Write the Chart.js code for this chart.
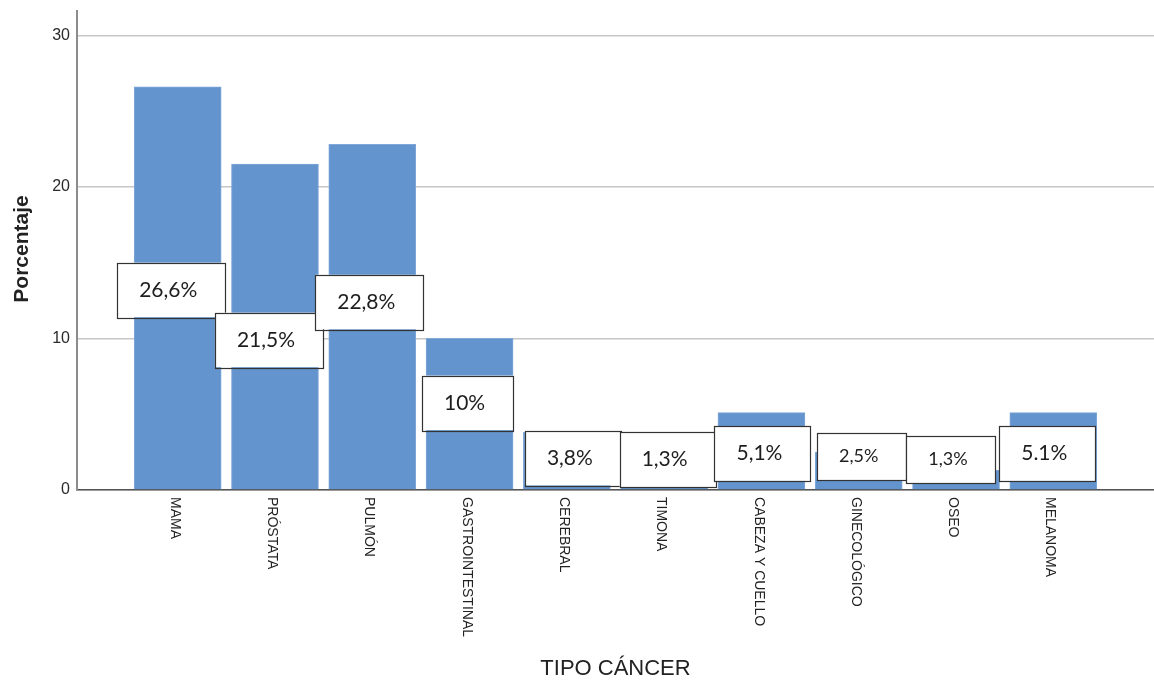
<!DOCTYPE html>
<html>
<head>
<meta charset="utf-8">
<script src="https://cdn.jsdelivr.net/npm/chart.js@4/dist/chart.umd.min.js"></script>
<style>
  html, body { margin: 0; padding: 0; background: #fff; }
  #wrap { width: 1154px; height: 682px; }
</style>
</head>
<body>
<div id="wrap"><canvas id="chart" width="1154" height="682"></canvas></div>
<script>
// tipos de cancer y porcentaje de pacientes
var categories = ["MAMA", "PRÓSTATA", "PULMÓN", "GASTROINTESTINAL", "CEREBRAL", "TIMONA", "CABEZA Y CUELLO", "GINECOLÓGICO", "OSEO", "MELANOMA"];
var percentages = [26.6, 21.5, 22.8, 10, 3.8, 1.3, 5.1, 2.5, 1.3, 5.1];
var valueLabels = ["26,6%", "21,5%", "22,8%", "10%", "3,8%", "1,3%", "5,1%", "2,5%", "1,3%", "5.1%"];
var yTicks = [0, 10, 20, 30];

// where each value box sits (centre, in % units) and how far it is nudged sideways
var tagLevel = [13.2, 9.9, 12.4, 5.75, 2.1, 2.0, 2.4, 2.2, 2.0, 2.4];
var tagShift = [-6.5, -6, -3, -2, 6, 3.5, 1, 3, -5, -6];
var tagFont = [21, 21, 21, 21, 21, 21, 21, 18, 18, 21];

var barColor = "#6394cd";

var labelsPlugin = {
  id: "labelsPlugin",
  afterDatasetsDraw: function(chart) {
    var ctx = chart.ctx;
    var xs = chart.scales.x, ys = chart.scales.y;
    ctx.save();
    for (var i = 0; i < percentages.length; i++) {
      var cx = xs.getPixelForValue(i) + tagShift[i];
      var cy = ys.getPixelForValue(tagLevel[i]);
      ctx.font = tagFont[i] + "px Lato, 'Open Sans', sans-serif";
      var tw = ctx.measureText(valueLabels[i]).width;
      var w = tw + 50, h = tagFont[i] * 2.6;
      ctx.fillStyle = "#fff";
      ctx.fillRect(cx - w / 2, cy - h / 2, w, h);
      ctx.strokeStyle = "#333";
      ctx.lineWidth = 1.2;
      ctx.strokeRect(Math.round(cx - w / 2) + 0.5, Math.round(cy - h / 2) + 0.5, Math.round(w), Math.round(h));
      ctx.fillStyle = "#1e1e1e";
      ctx.textAlign = "center";
      ctx.textBaseline = "middle";
      ctx.fillText(valueLabels[i], cx - 3, cy);
    }
    ctx.restore();
  },
  afterDraw: function(chart) {
    var ctx = chart.ctx;
    var xs = chart.scales.x;
    var area = chart.chartArea;
    ctx.save();
    // category names, turned to read downwards
    ctx.font = "14px 'Liberation Sans', Arial, sans-serif";
    ctx.fillStyle = "#222";
    ctx.textAlign = "left";
    ctx.textBaseline = "middle";
    for (var i = 0; i < categories.length; i++) {
      ctx.save();
      ctx.translate(xs.getPixelForValue(i) - 3, area.bottom + 7);
      ctx.rotate(Math.PI / 2);
      ctx.fillText(categories[i], 0, 0);
      ctx.restore();
    }
    // axis titles
    ctx.textAlign = "center";
    ctx.fillStyle = "#222";
    ctx.font = "22px 'Liberation Sans', Arial, sans-serif";
    ctx.fillText("TIPO CÁNCER", (area.left + area.right) / 2, 669);
    ctx.save();
    ctx.translate(22, 249);
    ctx.rotate(-Math.PI / 2);
    ctx.font = "bold 21px 'Liberation Sans', Arial, sans-serif";
    ctx.fillText("Porcentaje", 0, 0);
    ctx.restore();
    ctx.restore();
  }
};

new Chart(document.getElementById("chart"), {
  type: "bar",
  data: {
    datasets: [{
      data: percentages.map(function(v, i) { return { x: i, y: v }; }),
      backgroundColor: barColor,
      borderColor: "#7fa7d8",
      borderWidth: 1,
      barThickness: 87
    }]
  },
  options: {
    responsive: false,
    animation: false,
    devicePixelRatio: 1,
    layout: { padding: { top: 11, right: 0, left: 0, bottom: 0 } },
    plugins: {
      legend: { display: false },
      tooltip: { enabled: false }
    },
    scales: {
      x: {
        type: "linear",
        offset: false,
        min: -1.035,
        max: 10.035,
        grid: { display: false },
        ticks: { display: false },
        border: { color: "#555", width: 1.5 },
        afterFit: function(scale) {
          scale.height = 192;
          scale.paddingLeft = 0;
          scale.paddingRight = 0;
        }
      },
      y: {
        min: 0,
        max: 31.6,
        afterBuildTicks: function(scale) {
          scale.ticks = yTicks.map(function(v) { return { value: v }; });
        },
        grid: { color: "#c6c6c6", lineWidth: 1.5, drawTicks: false },
        border: { color: "#8c8c8c", width: 2 },
        ticks: {
          padding: 7,
          color: "#2a2a2a",
          font: { family: "'Liberation Sans', Arial, sans-serif", size: 16 }
        },
        afterFit: function(scale) {
          scale.width = 77;
          scale.paddingTop = 0;
          scale.paddingBottom = 0;
        }
      }
    }
  },
  plugins: [labelsPlugin]
});
</script>
</body>
</html>
